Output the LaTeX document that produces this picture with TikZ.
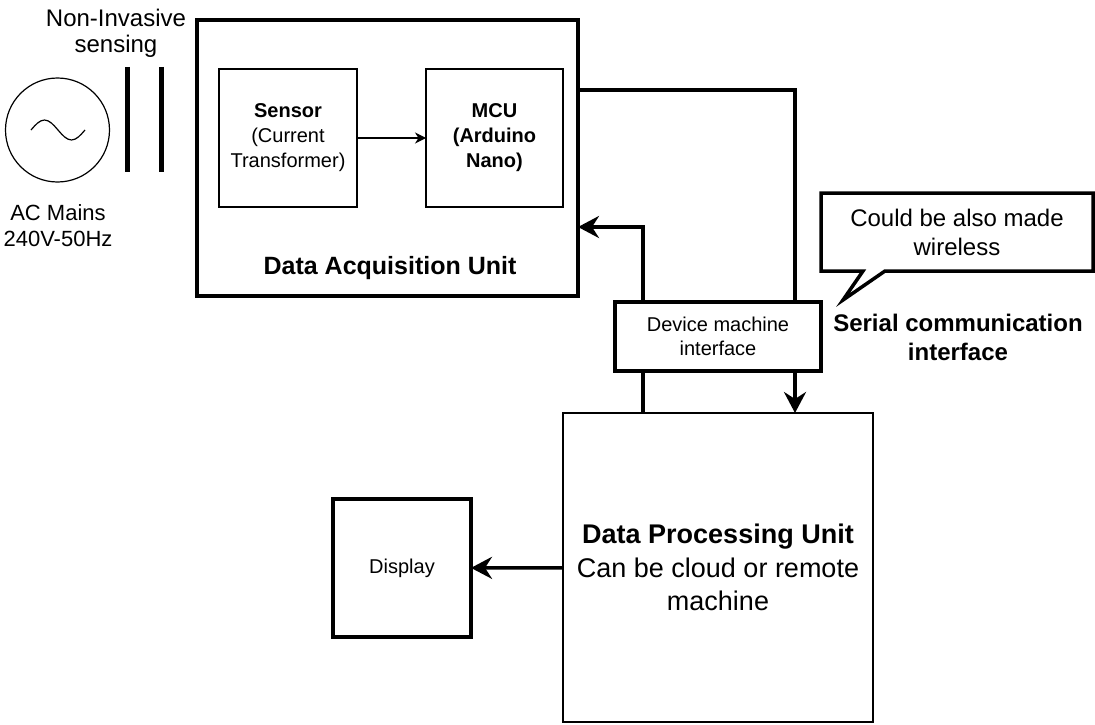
\documentclass[tikz,border=0pt]{standalone}
\usepackage{fontspec}
\setmainfont{Liberation Sans}
\usetikzlibrary{arrows.meta}
\newcommand{\fs}[2]{\fontsize{#1}{#2}\selectfont}

\begin{document}
\begin{tikzpicture}[x=1pt, y=-1pt,
  box/.style={draw, inner sep=0pt, outer sep=0pt, align=center},
  label/.style={inner sep=0pt, align=center},
  link/.style={line width=3.5pt},
  bigtip/.style={-{Stealth[length=21pt, width=22pt, inset=7pt]}},
  smalltip/.style={-{Stealth[length=11pt, width=11pt, inset=3.5pt]}}]
  \useasboundingbox (0,0) rectangle (1095,725);

  \node[box, line width=1.2pt, circle, minimum size=104pt] (ac) at (57.5,130) {};
  \draw[line width=1.2pt] (31,130) sin (44.5,120) cos (58,130) sin (71.5,140) cos (85,130);
  \draw[line width=5pt] (127,67) -- (127,172) (161,67) -- (161,172);
  \node[label, font=\fs{24}{26}] (nis) at (116,33) {Non-Invasive\\sensing};
  \node[label, font=\fs{22}{26}] (mains) at (58,226) {AC Mains\\240V-50Hz};

  \node[box, line width=4pt, minimum width=381pt, minimum height=276pt] (dau) at (387.5,158) {};
  \node[label, font=\bfseries\fs{25}{30}] (daulabel) at (390,268) {Data Acquisition Unit};
  \node[box, line width=1.3pt, minimum width=138pt, minimum height=138pt, font=\fs{20}{25}]
    (sensor) at (288,138) {\textbf{Sensor}\\(Current\\Transformer)};
  \node[box, line width=1.3pt, minimum width=137pt, minimum height=138pt, font=\bfseries\fs{20}{25}]
    (mcu) at (494.5,138) {MCU\\(Arduino\\Nano)};
  \draw[line width=1.3pt, smalltip] (sensor) -- (mcu);

  \node[box, line width=3.5pt, minimum width=206pt, minimum height=69pt, font=\fs{20}{24}]
    (dmi) at (718,336.5) {Device machine\\interface};
  \node[box, line width=1.5pt, minimum width=310pt, minimum height=309pt, font=\fs{27}{33.5}]
    (dpu) at (718,567.5) {\textbf{Data Processing Unit}\\Can be cloud or remote\\machine};
  \node[box, line width=4pt, minimum width=138pt, minimum height=138pt, font=\fs{20}{24}]
    (display) at (402,568) {Display};

  \coordinate (out) at (795,90);
  \coordinate (ret) at (643,227);
  \draw[link] (dau.east |- out) -- (out) -- (dmi.north -| out);
  \draw[link, bigtip] (dmi.south -| out) -- (dpu.north -| out);
  \draw[link] (dpu.north -| ret) -- (dmi.south -| ret);
  \draw[link, bigtip] (dmi.north -| ret) -- (ret) -- (dau.east |- ret);
  \draw[link, bigtip] (dpu) -- (display);

  \draw[line width=3.5pt] (821,193) -- (1093,193) -- (1093,271) -- (885,271) -- (843,300)
    -- (863,271) -- (821,271) -- cycle;
  \node[label, font=\fs{24}{29}] (note) at (957,232.5) {Could be also made\\wireless};
  \node[label, font=\bfseries\fs{24}{29}] (serial) at (958,337.5) {Serial communication\\interface};
\end{tikzpicture}
\end{document}
